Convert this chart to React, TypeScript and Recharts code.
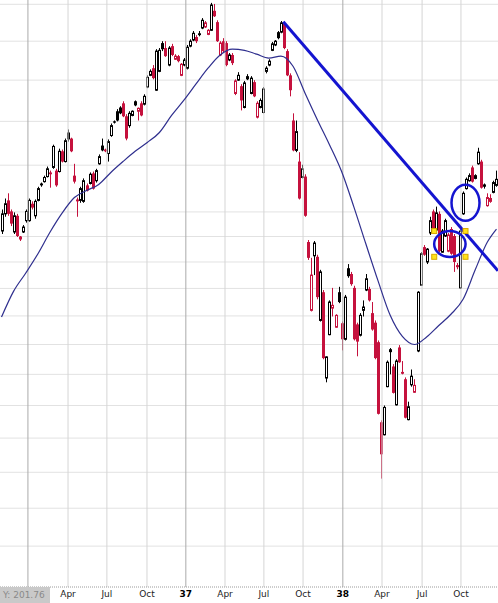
import React from "react";
import {
	ComposedChart,
	XAxis,
	YAxis,
	CartesianGrid,
	Bar,
	Line,
	ReferenceLine,
	ReferenceDot,
} from "recharts";

// weekly OHLC, Dow Jones Industrials, late 1935 -> end of 1938
const opens = [
	141.1, 144.6, 147.4, 145.1, 140.9, 144.2, 139.5, 140.9, 143.2, 143.2,
	146.7, 144.2, 147.4, 151.0, 151.4, 152.5, 153.4, 154.5, 153.8, 153.6,
	158.1, 155.8, 162.4, 161.0, 152.7, 147.6, 147.4, 147.2, 150.6, 151.0,
	153.2, 151.6, 155.3, 159.4, 158.5, 157.6, 161.7, 165.0, 167.4, 168.3,
	169.3, 166.2, 164.0, 166.4, 169.8, 167.4, 169.3, 169.1, 173.3, 176.2,
	178.0, 172.5, 177.2, 184.5, 183.2, 178.8, 183.7, 180.3, 181.1, 176.2,
	178.8, 178.0, 183.7, 185.3, 186.1, 187.1, 188.5, 188.8, 186.8, 187.9,
	193.2, 190.1, 181.4, 185.0, 184.5, 180.1, 181.4, 171.7, 175.0, 173.5,
	168.3, 176.0, 171.7, 174.5, 166.0, 168.3, 167.1, 177.2, 178.8, 182.6,
	184.0, 187.4, 187.4, 189.6, 182.4, 176.2, 165.2, 158.3, 155.8, 152.3,
	152.5, 138.9, 126.0, 136.2, 136.0, 124.2, 129.3, 114.4, 121.7, 126.4,
	123.0, 129.3, 123.7, 120.9, 133.8, 132.7, 130.1, 123.5, 121.6, 126.0,
	129.7, 129.9, 125.5, 123.8, 120.4, 107.4, 105.5, 113.0, 119.2, 116.3,
	110.1, 119.5, 115.4, 114.2, 107.8, 113.3, 112.1, 118.9, 130.6, 137.9,
	135.0, 140.7, 145.1, 141.3, 144.6, 136.9, 140.1, 137.1, 141.5, 140.1,
	134.4, 130.1, 144.6, 149.9, 151.6, 154.5, 152.1, 155.3, 155.8, 150.8,
	146.3, 147.2, 149.1, 150.6,
];
const highs = [
	145.5, 147.8, 148.9, 145.5, 144.9, 144.6, 140.1, 142.3, 145.5, 147.8,
	147.2, 147.6, 150.3, 151.2, 152.7, 154.7, 153.8, 159.6, 154.2, 158.7,
	158.5, 161.0, 163.1, 161.2, 155.3, 148.0, 150.3, 152.1, 151.0, 153.4,
	153.6, 154.2, 157.4, 161.0, 158.7, 160.8, 164.5, 165.2, 167.9, 168.6,
	169.8, 166.7, 167.4, 167.6, 170.0, 168.3, 169.8, 171.5, 176.2, 177.7,
	178.8, 182.9, 183.2, 185.0, 185.0, 183.7, 184.3, 181.6, 181.4, 179.3,
	180.6, 184.0, 185.5, 187.7, 186.6, 187.7, 191.2, 190.4, 188.2, 195.4,
	195.1, 190.6, 185.0, 185.8, 185.0, 181.9, 181.9, 175.2, 177.0, 174.0,
	174.8, 176.5, 176.0, 175.0, 169.8, 170.5, 173.3, 178.5, 180.3, 184.8,
	185.3, 187.7, 190.4, 190.1, 182.9, 176.7, 166.9, 165.2, 157.9, 155.1,
	153.0, 139.3, 135.8, 139.1, 136.4, 133.5, 129.7, 118.0, 127.8, 130.1,
	125.3, 130.3, 124.0, 128.8, 134.6, 133.1, 130.5, 123.8, 125.5, 127.8,
	132.7, 130.3, 127.5, 124.2, 120.7, 107.7, 110.0, 117.3, 119.4, 116.7,
	117.5, 119.9, 117.2, 114.5, 110.6, 115.8, 114.2, 129.5, 136.9, 138.3,
	137.7, 144.0, 145.5, 146.1, 145.1, 141.5, 143.6, 140.7, 141.9, 140.5,
	134.8, 141.5, 149.3, 152.3, 153.2, 154.9, 153.0, 158.9, 156.2, 151.0,
	148.9, 148.7, 151.6, 153.8,
];
const lows = [
	140.5, 144.0, 144.2, 142.1, 140.5, 139.9, 139.1, 140.7, 142.8, 143.0,
	145.5, 143.6, 147.2, 150.3, 151.2, 152.3, 150.1, 154.2, 150.3, 153.4,
	155.6, 155.6, 160.3, 157.9, 151.0, 144.0, 146.9, 146.9, 149.3, 150.8,
	149.7, 151.2, 155.1, 158.1, 157.9, 155.8, 161.4, 164.5, 165.0, 166.7,
	166.0, 160.6, 163.5, 166.2, 168.6, 165.2, 166.2, 168.8, 173.0, 176.0,
	175.2, 172.3, 177.0, 182.4, 180.9, 178.5, 181.1, 180.1, 179.5, 176.0,
	178.5, 177.7, 183.4, 185.0, 184.5, 186.3, 188.2, 188.5, 186.6, 187.7,
	191.5, 184.8, 181.1, 181.9, 178.5, 179.8, 178.8, 171.3, 174.8, 167.6,
	168.1, 175.0, 171.5, 170.8, 165.7, 168.1, 166.9, 176.7, 178.5, 182.4,
	183.7, 185.5, 187.1, 182.9, 176.0, 171.0, 158.1, 157.9, 147.6, 152.1,
	144.0, 135.4, 125.8, 132.5, 128.0, 124.0, 117.5, 113.7, 121.6, 124.9,
	122.9, 127.3, 119.0, 120.7, 132.0, 130.5, 120.7, 118.0, 121.4, 124.9,
	129.5, 127.6, 122.4, 117.5, 108.6, 99.1, 105.4, 112.9, 115.0, 111.9,
	110.0, 116.9, 115.0, 108.0, 107.7, 113.0, 112.0, 118.7, 130.5, 136.2,
	134.6, 140.3, 141.1, 141.1, 136.9, 136.8, 139.9, 136.9, 136.4, 133.1,
	133.6, 129.9, 144.4, 149.7, 151.4, 151.2, 151.9, 155.1, 149.9, 149.9,
	146.1, 146.9, 148.9, 150.3,
];
const closes = [
	144.6, 146.7, 144.6, 142.6, 144.2, 140.1, 139.9, 141.9, 145.1, 147.4,
	145.9, 147.2, 149.9, 150.6, 152.3, 154.2, 153.0, 159.2, 150.6, 158.1,
	155.8, 160.5, 160.8, 158.1, 151.4, 147.2, 149.9, 151.6, 149.5, 153.0,
	149.9, 153.8, 156.9, 158.3, 158.1, 160.3, 164.0, 164.7, 165.2, 166.9,
	166.2, 161.0, 166.9, 167.4, 168.8, 168.1, 166.4, 171.0, 175.7, 177.2,
	175.5, 182.4, 182.6, 182.9, 181.1, 183.2, 181.4, 181.1, 179.8, 179.0,
	180.1, 183.4, 185.0, 187.1, 185.0, 186.6, 190.6, 189.9, 187.9, 194.8,
	191.7, 185.0, 184.5, 182.4, 178.8, 181.4, 179.3, 174.8, 176.2, 170.0,
	174.3, 175.2, 175.5, 171.0, 169.3, 170.0, 172.8, 178.0, 179.8, 184.3,
	185.0, 185.8, 189.9, 183.2, 176.2, 172.5, 158.3, 162.6, 147.8, 154.2,
	144.2, 135.8, 132.5, 138.7, 128.4, 133.1, 117.7, 117.9, 127.5, 126.9,
	125.1, 127.5, 120.9, 128.4, 132.3, 130.8, 120.9, 120.5, 125.1, 126.6,
	131.8, 127.8, 122.6, 117.7, 108.7, 102.6, 109.7, 117.0, 118.7, 112.0,
	117.2, 117.0, 115.1, 108.1, 109.8, 114.7, 113.2, 129.3, 136.6, 136.4,
	137.5, 143.2, 141.5, 144.8, 137.1, 141.1, 143.2, 140.3, 136.6, 135.0,
	134.0, 141.1, 148.9, 151.9, 152.7, 151.4, 152.7, 157.9, 150.1, 150.3,
	148.0, 147.8, 151.2, 151.9,
];

// 30-week moving average, sampled every 4 weeks
const maWeeks = [
	0, 4, 8, 12, 16, 20, 24, 28, 32, 36, 40, 44, 48, 52, 56, 60, 64, 68, 72, 76,
	80, 84, 88, 92, 96, 100, 104, 108, 112, 116, 120, 124, 128, 132, 136, 140,
	144, 148, 152, 156, 160, 163,
];
const maValues = [
	124.8, 129.5, 132.9, 136.6, 140.9, 144.8, 148.0, 149.5, 150.8, 153.4, 155.8,
	158.1, 160.1, 162.4, 166.4, 170.0, 174.0, 178.0, 181.4, 182.9, 182.6, 181.6,
	180.6, 181.1, 178.5, 171.7, 165.4, 159.6, 153.6, 146.1, 138.5, 131.4, 125.1,
	121.4, 120.0, 121.3, 123.3, 125.3, 128.0, 133.5, 138.9, 141.5,
];

// quarter marks (week position) and their labels
const quarterTicks = [8.7, 21.9, 34.7, 47.9, 60.7, 73.6, 86.4, 99.3, 112.4, 125.3, 138.5, 151.3];
const quarterLabels = ["36", "Apr", "Jul", "Oct", "37", "Apr", "Jul", "Oct", "38", "Apr", "Jul", "Oct"];

const gridPrices = [90, 95, 100, 105, 110, 115, 120, 125, 130, 135, 140, 145, 150, 155, 160, 165, 170, 175, 180, 185, 190, 195];

// downtrend line from the August 1937 high
const trendStart = { x: 92.8, y: 190.2 };
const trendEnd = { x: 163.5, y: 133.3 };

// circled breakout weeks and the selection handles of the lower circle
const upperCircle = { x: 152.8, y: 146.9 };
const lowerCircle = { x: 147.65, y: 138.5 };
const handles = [
	{ x: 142.5, y: 141.1 },
	{ x: 152.8, y: 141.1 },
	{ x: 142.5, y: 136.0 },
	{ x: 152.8, y: 136.0 },
];

const RED = "#c5113d";
const BLUE = "#1414d0";

const rows = opens.map((open, i) => ({
	week: i,
	open,
	high: highs[i],
	low: lows[i],
	close: closes[i],
	prevClose: i > 0 ? closes[i - 1] : open,
	range: [lows[i], highs[i]],
}));

const maRows = maWeeks.map((week, i) => ({ week, ma: maValues[i] }));

const Candle = (props: any) => {
	const { x, y, width, height, payload } = props;
	if (!payload || height == null) return null;
	const top = Math.min(y, y + height);
	const h = Math.abs(height);
	const { open, close, high, low, prevClose } = payload;
	const span = Math.log(high) - Math.log(low);
	const toY = (v: number) => top + (h * (Math.log(high) - Math.log(v))) / span;
	const cx = Math.round(x + width / 2);
	const color = close >= prevClose ? "#000" : RED;
	const bodyTop = toY(Math.max(open, close));
	const bodyH = Math.max(toY(Math.min(open, close)) - bodyTop, 1);
	return (
		<g>
			<line x1={cx + 0.5} x2={cx + 0.5} y1={top} y2={top + h} stroke={color} strokeWidth={1} />
			{close > open ? (
				<rect x={cx - 0.5} y={bodyTop} width={2} height={bodyH} fill='#fff' stroke={color} strokeWidth={1} />
			) : (
				<rect x={cx - 1} y={bodyTop} width={3} height={bodyH} fill={color} />
			)}
		</g>
	);
};

const QuarterTick = (props: any) => {
	const { x, y, payload } = props;
	const idx = quarterTicks.indexOf(payload.value);
	const label = quarterLabels[idx];
	// the first year mark sits under the cursor readout
	if (x < 50) return null;
	const isYear = /^\d+$/.test(label);
	return (
		<text
			x={x}
			y={y + 10}
			textAnchor='middle'
			fontFamily='DejaVu Sans, Verdana, sans-serif'
			fontSize={9}
			fontWeight={isYear ? "bold" : "normal"}
			fill={isYear ? "#000" : "#222"}>
			{label}
		</text>
	);
};

const Ellipse = (rx: number, ry: number) => (props: any) => (
	<ellipse cx={props.cx} cy={props.cy} rx={rx} ry={ry} fill='none' stroke={BLUE} strokeWidth={2.5} />
);

const Handle = (props: any) => (
	<rect x={props.cx - 2.5} y={props.cy - 2.5} width={5} height={5} fill='#ffe21a' stroke='#d9a800' strokeWidth={1} />
);

const App = () => {
	return (
		<div style={{ position: "absolute", left: 0, top: 0, width: 498, height: 603, background: "#fff" }}>
			<ComposedChart
				width={498}
				height={603}
				data={rows}
				margin={{ top: 0, right: 0, bottom: 0, left: 0 }}>
				<CartesianGrid vertical={false} horizontalValues={gridPrices} stroke='#e2e2e2' />
				<XAxis
					dataKey='week'
					type='number'
					domain={[-0.5, 163.5]}
					allowDataOverflow
					ticks={quarterTicks}
					interval={0}
					tickLine={false}
					tickSize={0}
					tickMargin={0}
					height={16}
					axisLine={{ stroke: "#9a9a9a", strokeDasharray: "1 1" }}
					tick={<QuarterTick />}
				/>
				<YAxis hide scale='log' domain={[84.9, 196.2]} allowDataOverflow />
				{quarterTicks.map((t, i) => (
					<ReferenceLine
						key={t}
						x={t}
						stroke={/^\d+$/.test(quarterLabels[i]) ? "#ababab" : "#d5d5d5"}
						strokeWidth={1}
					/>
				))}
				<Line
					data={maRows}
					dataKey='ma'
					type='monotone'
					dot={false}
					activeDot={false}
					stroke='#2f2f8e'
					strokeWidth={1.2}
					isAnimationActive={false}
				/>
				<Bar dataKey='range' barSize={3} shape={<Candle />} isAnimationActive={false} />
				<ReferenceLine segment={[trendStart, trendEnd]} stroke={BLUE} strokeWidth={3} />
				<ReferenceDot x={upperCircle.x} y={upperCircle.y} r={14} shape={Ellipse(14, 18)} />
				<ReferenceDot x={lowerCircle.x} y={lowerCircle.y} r={15} shape={Ellipse(15.7, 13)} />
				{handles.map((p, i) => (
					<ReferenceDot key={i} x={p.x} y={p.y} r={3} shape={Handle} />
				))}
			</ComposedChart>
			<div
				style={{
					position: "absolute",
					left: 0,
					top: 587,
					width: 50,
					height: 16,
					background: "#c9c9c9",
					color: "#8a8a8a",
					fontFamily: "DejaVu Sans, Verdana, sans-serif",
					fontSize: 9,
					lineHeight: "16px",
					paddingLeft: 3,
					boxSizing: "border-box",
					whiteSpace: "nowrap",
				}}>
				Y: 201.76
			</div>
		</div>
	);
};

export default App;
